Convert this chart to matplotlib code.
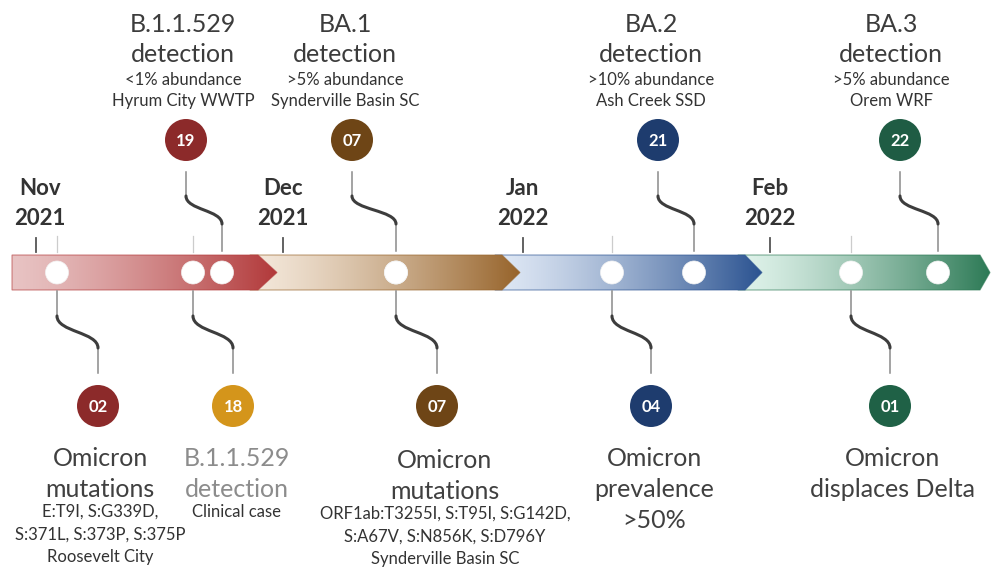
import numpy as np
import matplotlib
matplotlib.use("Agg")
import matplotlib.pyplot as plt
from matplotlib.patches import Polygon, Circle, PathPatch
from matplotlib.path import Path
from matplotlib.colors import to_rgb

# ---------------- data ----------------
months = ["Nov", "Dec", "Jan", "Feb"]
years = ["2021", "2021", "2022", "2022"]

top_days = ["19", "07", "21", "22"]
top_titles = [["B.1.1.529", "detection"], ["BA.1", "detection"],
              ["BA.2", "detection"], ["BA.3", "detection"]]
top_details = [["<1% abundance", "Hyrum City WWTP"],
               [">5% abundance", "Synderville Basin SC"],
               [">10% abundance", "Ash Creek SSD"],
               [">5% abundance", "Orem WRF"]]

bottom_days = ["02", "18", "07", "04", "01"]
bottom_titles = [["Omicron", "mutations"], ["B.1.1.529", "detection"],
                 ["Omicron", "mutations"], ["Omicron", "prevalence", ">50%"],
                 ["Omicron", "displaces Delta"]]
bottom_details = [["E:T9I, S:G339D,", "S:371L, S:373P, S:375P", "Roosevelt City"],
                  ["Clinical case"],
                  ["ORF1ab:T3255I, S:T95I, S:G142D,", "S:A67V, S:N856K, S:D796Y",
                   "Synderville Basin SC"],
                  [], []]

# ---------------- layout (pixel coordinates) ----------------
month_x = [36, 283, 523, 770]
top_circle_x = [186, 352, 658, 900]
top_dot_x = [222, 396, 694, 938]
top_text_x = [183, 345, 651, 891]
bottom_dot_x = [57, 193, 396, 612, 851]
bottom_circle_x = [98, 233, 437, 651, 890]
bottom_text_x = [100, 237, 445, 654, 893]

segments = [  # x0, chevron base, tip, light color, dark color
    (12, 258, 277, "#e8c3c3", "#b2393a"),
    (250, 502, 520, "#f4e8db", "#97642b"),
    (495, 745, 762, "#dfe8f5", "#2b5391"),
    (738, 980, 990, "#e0f3eb", "#2d7a56"),
]
top_circle_colors = ["#8c2a2a", "#6e4516", "#1e3c6e", "#1f5c44"]
bottom_circle_colors = ["#8c2a2a", "#d4951b", "#6e4516", "#1e3c6e", "#1f6146"]
bottom_title_colors = ["#404040", "#8c8c8c", "#404040", "#404040", "#404040"]

FONT = "Lato"
BAND_TOP, BAND_BOT = 255, 290
BAND_MID = (BAND_TOP + BAND_BOT) / 2

fig = plt.figure(figsize=(9.91, 5.69), dpi=100)
ax = fig.add_axes([0, 0, 1, 1])
ax.set_xlim(0, 991)
ax.set_ylim(569, 0)
ax.axis("off")

# band segments with gradients (later segments below earlier chevrons)
for i, (x0, xb, xt, c0, c1) in enumerate(segments):
    z = 5 - i * 0.5
    verts = [(x0, BAND_TOP), (xb, BAND_TOP), (xt, BAND_MID), (xb, BAND_BOT), (x0, BAND_BOT)]
    poly = Polygon(verts, closed=True, facecolor="none", edgecolor=c1,
                   lw=0.8, alpha=0.6, zorder=z + 0.1)
    ax.add_patch(poly)
    g = np.linspace(0, 1, 256) ** 1.3
    a, b = np.array(to_rgb(c0)), np.array(to_rgb(c1))
    img = (a[None, :] * (1 - g[:, None]) + b[None, :] * g[:, None])[None, :, :]
    im = ax.imshow(img, extent=(x0, xt, BAND_BOT, BAND_TOP), aspect="auto",
                   zorder=z, interpolation="bilinear")
    im.set_clip_path(poly)

ax.set_xlim(0, 991)
ax.set_ylim(569, 0)

# white dots on band
for x in top_dot_x + bottom_dot_x:
    ax.add_patch(Circle((x, BAND_MID), 11.5, facecolor="white", edgecolor="#f2f2f2",
                        lw=0.5, zorder=10))

# month ticks & labels
for x, m, y in zip(month_x, months, years):
    ax.plot([x, x], [238, 252], color="#555555", lw=1.3, zorder=6)
    ax.text(x + (4 if m == "Nov" else 0), 188, m, ha="center", va="center",
            fontsize=16, fontweight="bold", family=FONT, color="#333333")
    ax.text(x + (4 if m == "Nov" else 0), 218, y, ha="center", va="center",
            fontsize=16, fontweight="bold", family=FONT, color="#333333")

# faint stubs above band for bottom-only dots
for x in bottom_dot_x:
    if x not in top_dot_x:
        ax.plot([x, x], [236, 252], color="#cccccc", lw=0.9, zorder=6)


def connector(xa, ya0, ya1, xb, yb0, yb1):
    ax.plot([xa, xa], [ya0, ya1], color="#8a8a8a", lw=1.1, zorder=6)
    ax.plot([xb, xb], [yb0, yb1], color="#8a8a8a", lw=1.1, zorder=6)
    h = yb0 - ya1
    path = Path([(xa, ya1), (xa, ya1 + 0.5 * h), (xb, yb0 - 0.5 * h), (xb, yb0)],
                [Path.MOVETO, Path.CURVE4, Path.CURVE4, Path.CURVE4])
    ax.add_patch(PathPatch(path, facecolor="none", edgecolor="#3d3d3d", lw=2.2,
                           capstyle="round", zorder=7))


def num_circle(x, y, col, label):
    ax.add_patch(Circle((x, y), 21, facecolor=col, edgecolor="none", zorder=8))
    ax.text(x, y + 1, label, ha="center", va="center", fontsize=12, fontweight="bold",
            family=FONT, color="white", zorder=9)


# top events
for i in range(len(top_days)):
    connector(top_circle_x[i], 172, 196, top_dot_x[i], 224, 251)
    num_circle(top_circle_x[i], 140, top_circle_colors[i], top_days[i])
    for j, line in enumerate(top_titles[i]):
        ax.text(top_text_x[i], 24 + 30 * j, line, ha="center", va="center",
                fontsize=18, family=FONT, color="#3c3c3c")
    for j, line in enumerate(top_details[i]):
        ax.text(top_text_x[i], 80 + 21 * j, line, ha="center", va="center",
                fontsize=12, family=FONT, color="#333333")

# bottom events
for i in range(len(bottom_days)):
    connector(bottom_dot_x[i], 291, 316, bottom_circle_x[i], 348, 373)
    num_circle(bottom_circle_x[i], 406, bottom_circle_colors[i], bottom_days[i])
    y0 = 458 + (2 if i == 2 else 0)
    for j, line in enumerate(bottom_titles[i]):
        ax.text(bottom_text_x[i], y0 + 31 * j, line, ha="center", va="center",
                fontsize=18, family=FONT, color=bottom_title_colors[i])
    for j, line in enumerate(bottom_details[i]):
        ax.text(bottom_text_x[i], y0 + 54 + 22.5 * j, line, ha="center", va="center",
                fontsize=12, family=FONT, color="#333333")

fig.savefig("out.png", dpi=100)
